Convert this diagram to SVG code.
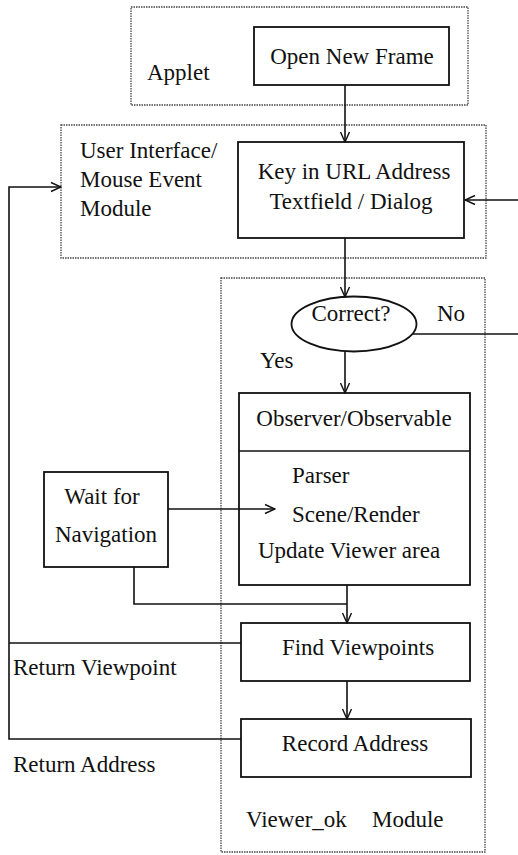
<svg xmlns="http://www.w3.org/2000/svg" width="518" height="855" viewBox="0 0 518 855">
<style>
text{font-family:"Liberation Serif","Times New Roman",serif;font-size:23px;fill:#111}
.mod{fill:none;stroke:#444;stroke-width:1.3;stroke-dasharray:1.5 1}
.box{fill:#fff;stroke:#111;stroke-width:1.8}
.ln{fill:none;stroke:#111;stroke-width:1.6}
.c{text-anchor:middle}
</style>
<defs>
<marker id="ah" viewBox="0 0 12 12" refX="11" refY="6" markerWidth="12" markerHeight="12" markerUnits="userSpaceOnUse" orient="auto">
<path d="M1,1.5 L11,6 L1,10.5" fill="none" stroke="#111" stroke-width="1.4"/>
</marker>
</defs>
<g id="applet-module">
<rect class="mod" x="131" y="7" width="337" height="98"/>
<text x="147" y="80">Applet</text>
</g>
<g id="ui-module">
<rect class="mod" x="61" y="125" width="425" height="133"/>
<text x="80" y="158">User Interface/</text>
<text x="80" y="187">Mouse Event</text>
<text x="80" y="216">Module</text>
</g>
<g id="viewer-module">
<rect class="mod" x="221" y="278" width="264" height="574"/>
<text x="246" y="827">Viewer_ok</text>
<text x="372" y="827">Module</text>
</g>
<g id="open-new-frame">
<rect class="box" x="254" y="27" width="195" height="58"/>
<text class="c" x="352" y="64">Open New Frame</text>
</g>
<g id="key-in-url">
<rect class="box" x="238" y="142" width="226" height="96"/>
<text class="c" x="354" y="179">Key in URL Address</text>
<text class="c" x="351" y="209">Textfield / Dialog</text>
</g>
<g id="correct">
<ellipse cx="354" cy="324" rx="62.5" ry="27.5" fill="#fff" stroke="#111" stroke-width="1.8"/>
<text class="c" x="351" y="321">Correct?</text>
</g>
<g id="observer">
<rect class="box" x="239" y="393" width="231" height="192"/>
<line class="ln" x1="239" y1="451" x2="470" y2="451"/>
<text class="c" x="354" y="426">Observer/Observable</text>
<text x="292" y="483">Parser</text>
<text x="292" y="522">Scene/Render</text>
<text x="258" y="558">Update Viewer area</text>
</g>
<g id="wait-for-navigation">
<rect class="box" x="44" y="472" width="124" height="95"/>
<text class="c" x="102" y="504">Wait for</text>
<text class="c" x="106" y="542">Navigation</text>
</g>
<g id="find-viewpoints">
<rect class="box" x="241" y="623" width="229" height="58"/>
<text class="c" x="358" y="655">Find Viewpoints</text>
</g>
<g id="record-address">
<rect class="box" x="241" y="719" width="230" height="58"/>
<text class="c" x="355" y="751">Record Address</text>
</g>
<g id="connectors">
<line class="ln" x1="345" y1="85" x2="345" y2="142" marker-end="url(#ah)"/>
<line class="ln" x1="345" y1="238" x2="345" y2="297" marker-end="url(#ah)"/>
<line class="ln" x1="345" y1="352" x2="345" y2="393" marker-end="url(#ah)"/>
<line class="ln" x1="413" y1="334" x2="518" y2="334"/>
<line class="ln" x1="518" y1="200" x2="465" y2="200" marker-end="url(#ah)"/>
<line class="ln" x1="168" y1="509" x2="275" y2="509" marker-end="url(#ah)"/>
<polyline class="ln" points="134,567 134,604 347,604"/>
<line class="ln" x1="347" y1="585" x2="347" y2="623" marker-end="url(#ah)"/>
<line class="ln" x1="347" y1="681" x2="347" y2="719" marker-end="url(#ah)"/>
<line class="ln" x1="241" y1="643" x2="9" y2="643"/>
<polyline class="ln" points="241,739 9,739 9,187 61,187" marker-end="url(#ah)"/>
<text x="437" y="321">No</text>
<text x="260" y="368">Yes</text>
<text x="13" y="675">Return Viewpoint</text>
<text x="13" y="772">Return Address</text>
</g>
</svg>
